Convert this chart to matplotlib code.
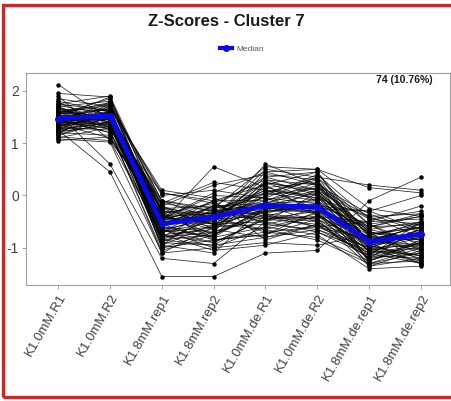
import numpy as np
import matplotlib
matplotlib.use("Agg")
import matplotlib.pyplot as plt
import matplotlib.transforms as mtransforms
from matplotlib.patches import Rectangle
from matplotlib.lines import Line2D

plt.rcParams["font.family"] = ["Liberation Sans", "DejaVu Sans"]

samples = ["K1.0mM.R1", "K1.0mM.R2", "K1.8mM.rep1", "K1.8mM.rep2",
           "K1.0mM.de.R1", "K1.0mM.de.R2", "K1.8mM.de.rep1", "K1.8mM.de.rep2"]

# z-score profiles of the genes in cluster 7 (one row per gene)
profiles = [
    [2.12, 1.45, -0.30, -0.55, 0.05, -0.10, -0.70, -0.85],
    [1.95, 1.88, -0.60, -0.20, 0.35, 0.10, -1.00, -0.95],
    [1.90, 1.05, -0.75, -0.90, -0.45, -0.30, -0.60, -0.55],
    [1.85, 1.70, 0.05, -0.10, 0.20, 0.45, -0.95, -1.20],
    [1.80, 1.60, -0.40, -0.65, -0.80, -0.55, -1.15, -0.90],
    [1.78, 1.35, -0.95, -0.30, 0.10, -0.05, -0.40, -0.35],
    [1.75, 1.90, -0.20, 0.20, 0.40, 0.30, -1.30, -1.25],
    [1.72, 1.55, -0.85, -0.75, -0.35, -0.60, -0.85, -0.60],
    [1.70, 1.80, -0.10, -0.45, -0.15, 0.20, -0.75, -1.10],
    [1.68, 1.25, -1.10, -1.00, -0.60, -0.40, -0.50, -0.20],
    [1.65, 1.62, -0.45, -0.25, 0.55, 0.50, 0.15, 0.05],
    [1.62, 1.48, -0.65, -0.80, -0.20, -0.35, -1.05, -0.80],
    [1.60, 1.75, 0.00, 0.10, -0.05, 0.35, -0.90, -1.30],
    [1.58, 1.40, -0.55, -0.40, -0.70, -0.80, -1.25, -0.95],
    [1.55, 0.60, -1.20, -1.30, -0.50, -0.25, -0.30, -0.65],
    [1.55, 1.85, -0.30, -0.35, 0.25, 0.05, -0.85, -0.70],
    [1.52, 1.52, -0.80, -0.60, -0.25, -0.15, -1.00, -1.15],
    [1.50, 1.30, -0.50, 0.55, 0.15, 0.25, -0.55, -0.40],
    [1.50, 1.65, -0.90, -0.95, -0.40, -0.45, -1.35, -1.05],
    [1.48, 1.58, -0.25, -0.55, -0.30, -0.20, -0.80, -0.50],
    [1.47, 1.45, -0.70, -0.35, -0.10, 0.15, -0.65, -0.85],
    [1.45, 1.70, -0.35, -0.15, -0.55, -0.65, -1.10, -1.00],
    [1.45, 1.20, -0.60, -0.70, 0.30, 0.00, -0.95, -0.75],
    [1.43, 1.55, -1.00, -0.85, -0.75, -0.30, -0.70, -1.25],
    [1.42, 1.50, -0.15, -0.30, -0.20, -0.50, -1.20, -0.60],
    [1.40, 1.78, -0.45, -0.50, 0.00, 0.40, -0.45, -0.30],
    [1.40, 1.35, -0.75, -1.05, -0.95, -0.70, -1.05, -0.90],
    [1.38, 1.60, -0.55, -0.20, -0.15, -0.10, -0.90, -0.55],
    [1.36, 1.10, -0.40, -0.60, 0.45, 0.20, -0.35, -0.70],
    [1.35, 1.45, -0.85, -0.45, -0.65, -0.85, -1.30, -1.10],
    [1.35, 1.68, 0.10, -0.05, -0.35, -0.05, -0.60, -0.40],
    [1.33, 1.40, -0.65, -0.90, -0.45, -0.40, -0.95, -0.80],
    [1.32, 1.52, -0.30, -0.40, 0.10, -0.25, -1.15, -1.20],
    [1.30, 1.25, -1.05, -0.75, -0.30, 0.10, -0.75, -0.60],
    [1.30, 1.75, -0.50, -0.10, -0.85, -0.55, -0.85, -0.95],
    [1.28, 1.55, -0.20, -0.65, 0.20, -0.35, -1.00, -0.65],
    [1.27, 1.38, -0.95, -0.55, -0.20, -0.20, -0.55, -1.05],
    [1.25, 1.62, -0.60, -0.30, -0.50, 0.05, -1.25, -0.85],
    [1.25, 0.45, -1.55, -1.55, -1.10, -1.05, -0.10, 0.35],
    [1.23, 1.48, -0.70, -0.50, 0.35, 0.45, -0.80, -0.75],
    [1.22, 1.32, -0.35, -0.80, -0.60, -0.75, -1.40, -1.35],
    [1.20, 1.58, -0.45, 0.00, -0.05, -0.15, -0.65, -0.50],
    [1.20, 1.15, -0.80, -0.70, -0.40, -0.50, -1.10, -0.70],
    [1.18, 1.72, -0.10, -0.25, 0.05, 0.30, -0.95, -1.15],
    [1.15, 1.42, -0.55, -0.85, -0.70, -0.60, -0.50, -0.45],
    [1.15, 1.50, -0.90, -0.40, 0.15, -0.05, -0.85, -1.00],
    [1.12, 1.05, -0.25, -0.20, -0.25, -0.30, -1.20, -0.90],
    [1.10, 1.30, -0.65, -1.00, -0.90, -0.95, -0.75, -0.55],
    [1.08, 1.02, -1.10, -0.60, 0.00, 0.15, -0.40, -0.80],
    [1.05, 1.12, -0.40, -0.35, -0.35, -0.45, -1.05, -1.25],
    [1.60, 1.45, -0.50, -0.45, 0.50, 0.35, 0.20, 0.10],
    [1.50, 1.88, -0.35, -0.75, -0.25, -0.25, -0.90, -0.75],
    [1.65, 1.40, -0.15, 0.25, 0.10, 0.00, -0.60, -0.35],
    [1.45, 1.55, -0.70, -0.60, -0.55, -0.35, -1.30, -1.00],
    [1.70, 1.30, -0.60, -0.10, -0.10, 0.25, -0.70, -0.90],
    [1.55, 1.65, -0.85, -0.95, -0.80, -0.65, -1.00, -0.70],
    [1.40, 1.50, -0.20, -0.50, 0.25, 0.10, -0.85, -0.60],
    [1.35, 1.58, -0.55, -0.30, -0.45, -0.55, -1.20, -1.10],
    [1.62, 1.48, -0.75, -0.65, -0.15, 0.10, -0.45, -0.55],
    [1.48, 1.35, 0.05, -0.15, 0.30, 0.20, -1.10, -1.30],
    [1.30, 1.60, -0.40, -0.55, -0.65, -0.40, -0.80, -0.85],
    [1.58, 1.72, -1.00, -0.70, -0.30, -0.30, -0.95, -0.65],
    [1.42, 1.28, -0.25, -0.35, 0.05, 0.35, -0.55, -0.95],
    [1.52, 1.52, -0.65, -0.45, -0.40, -0.15, -1.35, -1.20],
    [1.38, 1.45, -0.45, 0.05, 0.45, 0.50, -0.25, -0.40],
    [1.75, 1.62, -0.30, -0.85, -0.75, -0.45, -0.90, -0.75],
    [1.25, 1.40, -0.80, -0.25, -0.05, -0.35, -1.05, -1.15],
    [1.55, 1.78, -0.55, -0.45, 0.60, 0.20, -0.70, -0.80],
    [1.45, 1.20, -0.35, -0.55, -0.50, -0.70, -1.15, -0.50],
    [1.32, 1.55, -0.95, -1.10, -0.20, 0.05, -0.85, -1.05],
    [1.68, 1.45, -0.10, -0.30, -0.15, -0.20, -0.30, 0.00],
    [1.40, 1.62, -0.60, -0.80, 0.25, -0.10, -1.25, -0.90],
    [1.50, 1.50, -0.45, -0.40, -0.30, -0.25, -0.75, -0.60],
    [1.22, 1.35, -0.70, -0.20, -0.40, -0.60, -1.00, -1.30],
]

median_profile = [1.47, 1.52, -0.54, -0.41, -0.19, -0.22, -0.88, -0.74]
cluster_label = "74 (10.76%)"

W, H = 452, 401
fig = plt.figure(figsize=(W / 100, H / 100), dpi=100)
fig.patch.set_facecolor("white")

ax = fig.add_axes([26 / W, 1 - 285 / H, (450 - 26) / W, (285 - 73) / H])
x = np.arange(1, len(samples) + 1)

for row in profiles:
    ax.plot(x, row, color="black", lw=0.55, alpha=0.85, zorder=2)
    ax.plot(x, row, ls="none", marker="o", ms=2.2, color="black", zorder=3)

ax.plot(x, median_profile, color="#0a0ae6", lw=3.6, marker="o", ms=4,
        solid_capstyle="round", zorder=5)

ax.set_xlim(0.38, 8.56)
ax.set_ylim(-1.71, 2.34)
ax.set_xticks(x)
ax.set_xticklabels(samples, rotation=60, ha="right", va="top",
                   rotation_mode="anchor", fontsize=9.5, color="#404040")
shift = mtransforms.ScaledTranslation(4 / 100, -4 / 100, fig.dpi_scale_trans)
for lbl in ax.get_xticklabels():
    lbl.set_transform(lbl.get_transform() + shift)
ax.set_yticks([-1, 0, 1, 2])
ax.set_yticklabels(["-1", "0", "1", "2"], fontsize=10, color="#404040")
ax.tick_params(axis="both", length=3, width=0.6, color="#999999", pad=2)
for s in ax.spines.values():
    s.set_color("#a0a0a0")
    s.set_linewidth(0.8)

ax.text(8.23, 2.31, cluster_label, ha="right", va="top", fontsize=7.5,
        fontweight="bold", color="#1a1a1a")

fig.text(0.5, 1 - 22 / H, "Z-Scores - Cluster 7", ha="center", va="center",
         fontsize=12, fontweight="bold", color="#1a1a1a")

handle = Line2D([], [], color="#0a0ae6", lw=3, marker="o", ms=4)
fig.legend([handle], ["Median"], loc="center", bbox_to_anchor=(0.535, 1 - 49 / H),
           frameon=False, fontsize=6, handlelength=1.4, labelcolor="#555555",
           handletextpad=0.5)

fig.add_artist(Rectangle((3 / W, 1 - 397 / H), 1.0, (397 - 5) / H,
                         transform=fig.transFigure, fill=False,
                         edgecolor="#c42a2a", lw=2.4, clip_on=False))

fig.savefig("out.png", dpi=100)
